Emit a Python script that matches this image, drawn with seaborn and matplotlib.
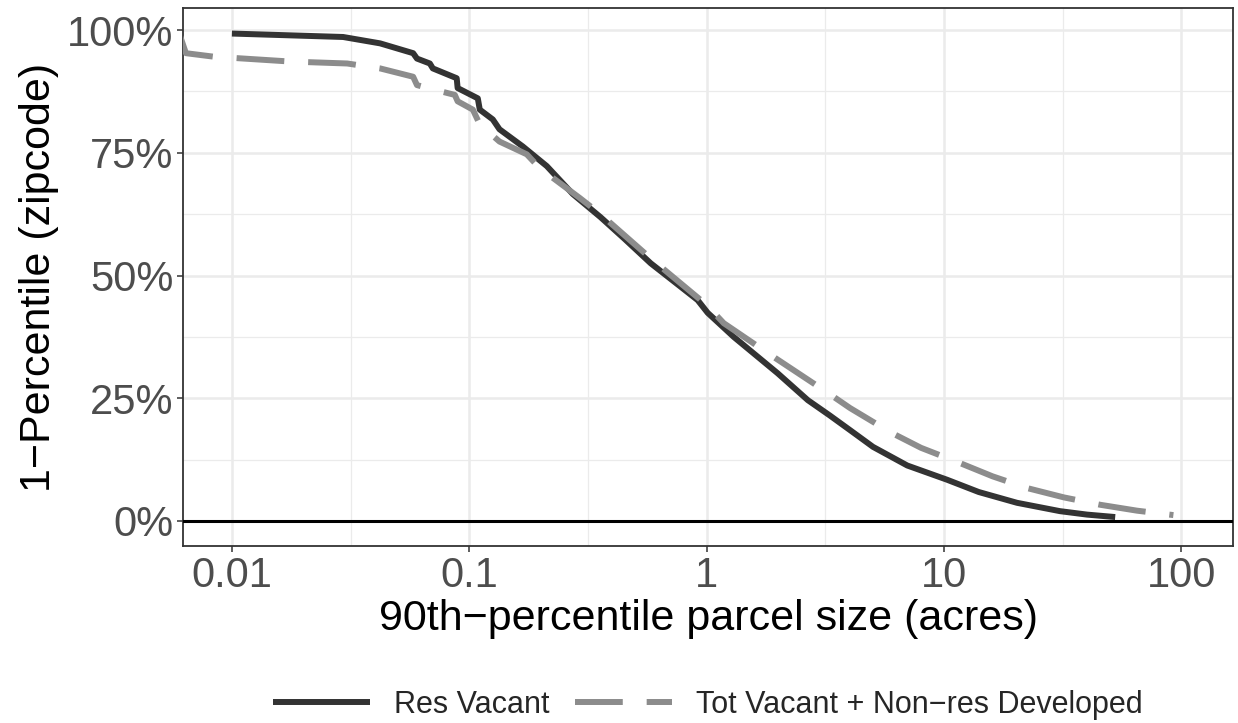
import numpy as np
import pandas as pd
import matplotlib
matplotlib.use("Agg")
import matplotlib.pyplot as plt
import matplotlib.ticker as mticker
import seaborn as sns

# values (x = acres, y = share in %)
res_x = [0.01, 0.0294, 0.0421, 0.058, 0.0602, 0.0682, 0.0702, 0.0885, 0.0893,
         0.1086, 0.1107, 0.1256, 0.134, 0.168, 0.212, 0.273, 0.357, 0.45, 0.581,
         0.75, 0.916, 1.01, 1.30, 1.99, 2.67, 3.3, 4.02, 5.02, 7.0, 10.3, 14.0,
         20.3, 30.8, 40.0, 52.6]
res_y = [99.3, 98.6, 97.3, 95.3, 94.2, 93.2, 92.2, 90.2, 88.2,
         86.1, 83.8, 81.8, 79.8, 76.3, 72.3, 66.6, 61.9, 57.5, 52.5,
         48.3, 45.0, 42.4, 37.5, 30.1, 24.6, 21.5, 18.5, 15.1, 11.3, 8.4, 5.9,
         3.7, 2.0, 1.3, 0.8]

tot_x = [0.006, 0.0064, 0.00834, 0.0176, 0.0306, 0.0421, 0.058, 0.0602, 0.0668,
         0.0869, 0.0893, 0.1035, 0.1107, 0.134, 0.1746, 0.198, 0.292, 0.357, 0.581,
         1.0, 1.18, 1.81, 3.24, 4.02, 5.93, 8.0, 11.4, 16.0, 22.4, 32.0, 45.5,
         65.0, 92.5]
tot_y = [99.3, 95.3, 94.6, 93.6, 93.2, 92.2, 90.5, 88.8, 88.2,
         86.8, 85.5, 83.8, 80.8, 77.3, 74.7, 71.9, 65.8, 62.5, 53.5,
         44.0, 40.3, 34.2, 26.1, 23.0, 18.1, 14.9, 12.0, 9.1, 6.7, 4.8, 3.3,
         2.1, 1.2]

labels = ["Res Vacant", "Tot Vacant + Non\u2212res Developed"]

df = pd.concat([
    pd.DataFrame({"size": res_x, "pct": np.array(res_y) / 100, "type": labels[0]}),
    pd.DataFrame({"size": tot_x, "pct": np.array(tot_y) / 100, "type": labels[1]}),
])

sns.set_style("white")
plt.rcParams["font.family"] = ["Liberation Sans", "DejaVu Sans"]

fig = plt.figure(figsize=(12.38, 7.23), dpi=100)
ax = fig.add_axes([0.1478, 0.2448, 0.8482, 0.7441])

sns.lineplot(data=df, x="size", y="pct", hue="type", style="type",
             palette=["#333333", "#8c8c8c"], dashes=["", (8, 4)],
             linewidth=4.3, sort=False, estimator=None, ax=ax, zorder=3)
for ln in ax.get_lines():
    ln.set_dash_capstyle("butt")
    ln.set_solid_capstyle("butt")
    ln.set_solid_joinstyle("round")

ax.axhline(0, color="black", linewidth=2.2, zorder=4)

ax.set_xscale("log")
ax.set_xlim(0.00622, 165)
ax.set_ylim(-0.051, 1.045)
ax.xaxis.set_major_locator(mticker.FixedLocator([0.01, 0.1, 1, 10, 100]))
ax.xaxis.set_major_formatter(mticker.FixedFormatter(["0.01", "0.1", "1", "10", "100"]))
ax.xaxis.set_minor_locator(mticker.FixedLocator([10 ** k for k in (-1.5, -0.5, 0.5, 1.5)]))
ax.xaxis.set_minor_formatter(mticker.NullFormatter())
ax.yaxis.set_major_locator(mticker.FixedLocator([0, 0.25, 0.5, 0.75, 1.0]))
ax.yaxis.set_major_formatter(mticker.FixedFormatter(["0%", "25%", "50%", "75%", "100%"]))
ax.yaxis.set_minor_locator(mticker.FixedLocator([0.125, 0.375, 0.625, 0.875]))

ax.grid(which="major", color="#ebebeb", linewidth=1.8, zorder=0)
ax.grid(which="minor", color="#ebebeb", linewidth=0.9, zorder=0)
ax.set_axisbelow(True)
for sp in ax.spines.values():
    sp.set_color("#333333")
    sp.set_linewidth(1.3)

ax.tick_params(axis="both", which="major", length=4, width=1.1, color="#333333",
               labelsize=30, labelcolor="#4d4d4d", direction="out", pad=3)
ax.tick_params(axis="both", which="minor", length=0)
ax.tick_params(axis="x", bottom=True)
ax.tick_params(axis="y", left=True)

ax.set_xlabel("90th\u2212percentile parcel size (acres)", fontsize=31, color="black", labelpad=2)
ax.set_ylabel("1\u2212Percentile (zipcode)", fontsize=31, color="black", labelpad=6)

handles, _ = ax.get_legend_handles_labels()
ax.legend(handles, labels, loc="center", bbox_to_anchor=(0.5, -0.295), ncol=2,
          frameon=False, fontsize=22, handlelength=3.15, columnspacing=0.85,
          handletextpad=0.8)

fig.savefig("out.png", dpi=100)
